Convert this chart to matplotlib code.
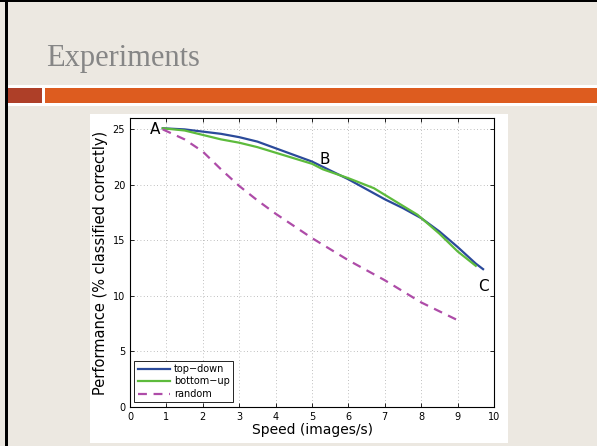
import matplotlib
matplotlib.use("Agg")
import matplotlib.pyplot as plt
from matplotlib.patches import Rectangle

# speed (images/s) vs. performance (% classified correctly)
td_speed = [0.9, 1.5, 2.0, 2.5, 3.0, 3.5, 4.0, 4.5, 5.0, 5.5, 6.0, 6.5, 7.0, 7.5, 8.0, 8.5, 9.0, 9.5, 9.7]
td_perf = [25.1, 25.0, 24.8, 24.6, 24.3, 23.9, 23.3, 22.7, 22.1, 21.3, 20.5, 19.6, 18.7, 17.9, 17.0, 15.8, 14.4, 12.9, 12.4]

bu_speed = [0.9, 1.5, 2.0, 2.5, 3.0, 3.5, 4.0, 4.5, 5.0, 5.3, 6.0, 6.7, 7.9, 8.5, 9.0, 9.5]
bu_perf = [25.1, 24.9, 24.5, 24.1, 23.8, 23.4, 22.9, 22.4, 21.9, 21.4, 20.6, 19.7, 17.3, 15.6, 14.0, 12.7]

rnd_speed = [0.9, 1.5, 2.0, 2.5, 3.0, 3.5, 4.0, 5.0, 6.0, 7.0, 8.0, 9.0]
rnd_perf = [25.0, 24.1, 23.0, 21.4, 19.9, 18.6, 17.4, 15.2, 13.2, 11.4, 9.4, 7.8]

W, H = 597, 446
fig = plt.figure(figsize=(W / 100, H / 100), dpi=100)
fig.patch.set_facecolor("#ECE8E1")


def px(x, y, w, h, **kw):
    # rectangle in pixel coordinates, origin top-left
    fig.patches.append(Rectangle((x / W, 1 - (y + h) / H), w / W, h / H,
                                 transform=fig.transFigure, zorder=-1, **kw))


# slide frame and header bar
px(5, 0, 3, H, color="black", lw=0)
px(0, 0, W, 2, color="black", lw=0)
px(8, 85, W, 21, color="white", lw=0)
px(8, 88, 34, 15, color="#AE3F28", lw=0)
px(45, 88, W, 15, color="#DD5C1F", lw=0)
px(90, 114, 418, 329, color="white", lw=0)

fig.text(46 / W, 1 - 66 / H, "Experiments", family="Liberation Serif",
         fontsize=22, color="#868686", va="baseline")

ax = fig.add_axes([130 / W, (H - 406.7) / H, 364 / W, 288.4 / H])
ax.set_zorder(2)
ax.plot(td_speed, td_perf, color="#2B4A9A", lw=1.6, label="top\u2212down")
ax.plot(bu_speed, bu_perf, color="#5DBB3C", lw=1.6, label="bottom\u2212up")
ax.plot(rnd_speed, rnd_perf, color="#AE4CA8", lw=1.6, ls=(0, (4, 3)), label="random")

ax.set_xlim(0, 10)
ax.set_ylim(0, 26)
ax.set_xticks(range(0, 11))
ax.set_yticks(range(0, 26, 5))
ax.tick_params(direction="in", top=True, right=True, labelsize=7, length=3, width=0.6)
ax.grid(True, ls=(0, (1, 3)), color="#AAAAAA", lw=0.6)
for s in ax.spines.values():
    s.set_linewidth(0.8)

ax.set_xlabel("Speed (images/s)", fontsize=10, labelpad=1)
ax.set_ylabel("Performance (% classified correctly)", fontsize=10.5, labelpad=3)

ax.text(0.68, 25.0, "A", fontsize=11, ha="center", va="center")
ax.text(5.35, 22.3, "B", fontsize=11, ha="center", va="center")
ax.text(9.7, 10.8, "C", fontsize=11, ha="center", va="center")

leg = ax.legend(loc="lower left", fontsize=7, fancybox=False, edgecolor="black",
                framealpha=1, handlelength=3.3, borderpad=0.35, labelspacing=0.25,
                handletextpad=0.4, borderaxespad=0.45)
leg.get_frame().set_linewidth(0.6)

fig.savefig("out.png", dpi=100, facecolor=fig.get_facecolor())
